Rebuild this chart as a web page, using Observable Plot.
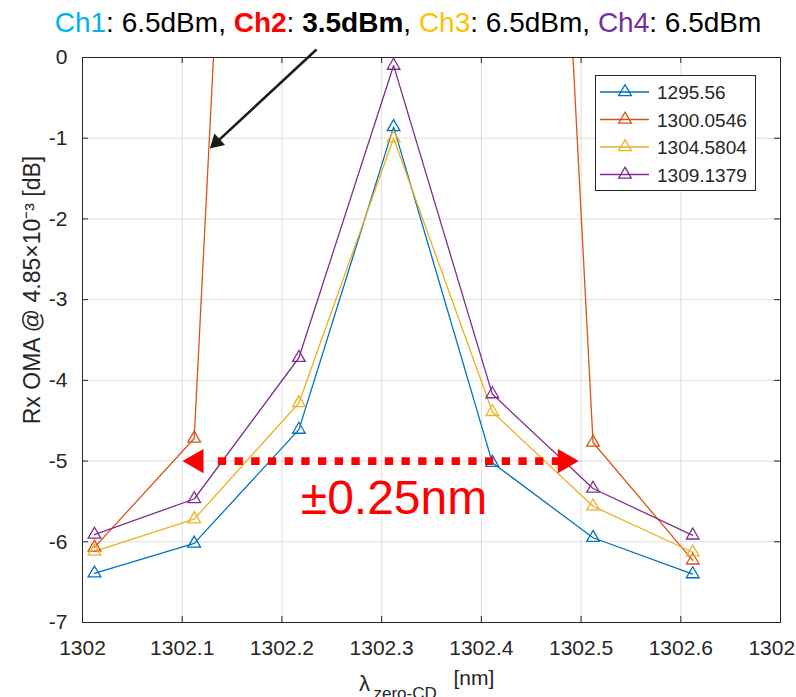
<!DOCTYPE html>
<html><head><meta charset="utf-8">
<script src="https://cdn.jsdelivr.net/npm/d3@7"></script>
<script src="https://cdn.jsdelivr.net/npm/@observablehq/plot@0.6"></script>
<style>
body{margin:0;background:#fff;font-family:"Liberation Sans",Arial,sans-serif;}
#wrap{position:relative;width:796px;height:697px;overflow:hidden;background:#fff;}
#title{position:absolute;left:0;top:9px;width:816px;text-align:center;font-size:28px;line-height:1;white-space:nowrap;color:#000;}
#chart{position:absolute;left:0;top:44px;}
#legend{position:absolute;left:595px;top:75px;}
</style></head><body>
<div id="wrap"><div id="title"></div><div id="chart"></div><div id="legend"></div></div>
<script>
// ---- data ----
const channelLabels = ["Ch1", "Ch2", "Ch3", "Ch4"];
const channelPowers = ["6.5dBm", "3.5dBm", "6.5dBm", "6.5dBm"];
const channelColors = ["#00B0F0", "#FF0000", "#FFC000", "#7030A0"];
const channelBold = [false, true, false, false];

const seriesNames = ["1295.56", "1300.0546", "1304.5804", "1309.1379"];
const seriesColors = ["#0072BD", "#D95319", "#EDB120", "#7E2F8E"];
const wavelengthsNm = [1302.012, 1302.112, 1302.217, 1302.312, 1302.411, 1302.512, 1302.612];
const oma1295 = [-6.39, -6.02, -4.61, -0.86, -5.02, -5.95, -6.40];
const oma1300 = [-6.07, -4.72, 20.9, 22.0, 19.2, -4.77, -6.23];
const oma1304 = [-6.12, -5.72, -4.28, -1.00, -4.39, -5.56, -6.13];
const oma1309 = [-5.91, -5.47, -3.72, -0.10, -4.17, -5.34, -5.92];
const seriesValues = [oma1295, oma1300, oma1304, oma1309];

const xTicks = [1302, 1302.1, 1302.2, 1302.3, 1302.4, 1302.5, 1302.6, 1302.7];
const yTicks = [-7, -6, -5, -4, -3, -2, -1, 0];
const xDomain = [1302, 1302.7];
const yDomain = [-7, 0];

const yLabel = "Rx OMA @ 4.85×10⁻³ [dB]";
const xLabelMain = "λ", xLabelSub = "zero-CD", xLabelUnit = "[nm]";
const spanLabel = "±0.25nm";
const spanCenter = {x: 1302.3124, y: -5.46};
const spanDash = {x1: 1302.1357, x2: 1302.4795, y: -5};
const spanHeads = [{x: 1302.1143, y: -5, rot: -90}, {x: 1302.4837, y: -5, rot: 90}];
const pointer = {x1: 1302.2347, y1: 0.099, x2: 1302.1343, y2: -1.052};

// ---- title ----
const title = d3.select("#title");
channelLabels.forEach((c, i) => {
  title.append("span").style("color", channelColors[i]).style("font-weight", channelBold[i] ? "bold" : "normal").text(c);
  title.append("span").text(": ");
  title.append("span").style("font-weight", channelBold[i] ? "bold" : "normal").text(channelPowers[i]);
  if (i < channelLabels.length - 1) title.append("span").text(", ");
});

// ---- chart ----
const W = 796, H = 653, mT = 13, mB = 75, mL = 82, mR = 16;
const innerW = W - mL - mR, innerH = H - mT - mB;
const rows = [];
seriesNames.forEach((name, i) => wavelengthsNm.forEach((x, j) => rows.push({series: name, x, y: seriesValues[i][j]})));

const kx = innerW / (xDomain[1] - xDomain[0]), ky = innerH / (yDomain[1] - yDomain[0]);
const pdx = (pointer.x2 - pointer.x1) * kx, pdy = -(pointer.y2 - pointer.y1) * ky;
const pointerRot = Math.atan2(pdx, -pdy) * 180 / Math.PI;
const axisColor = "#262626";

const chart = Plot.plot({
  width: W, height: H, marginTop: mT, marginBottom: mB, marginLeft: mL, marginRight: mR,
  style: {fontFamily: '"Liberation Sans", Arial, sans-serif', fontSize: "21px", color: axisColor, background: "white", overflow: "visible"},
  x: {domain: xDomain, label: null},
  y: {domain: yDomain, label: null},
  color: {domain: seriesNames, range: seriesColors},
  marks: [
    Plot.gridX(xTicks, {stroke: axisColor, strokeOpacity: 0.15}),
    Plot.gridY(yTicks, {stroke: axisColor, strokeOpacity: 0.15}),
    Plot.line(rows, {x: "x", y: "y", z: "series", stroke: "series", strokeWidth: 1.3, clip: true}),
    Plot.dot(rows, {x: "x", y: "y", stroke: "series", symbol: "triangle", r: 4.7, strokeWidth: 1.3, fill: "none", clip: true}),
    Plot.frame({stroke: axisColor}),
    Plot.tickX(xTicks, {x: d => d, insetTop: innerH - 6, stroke: axisColor}),
    Plot.tickX(xTicks, {x: d => d, insetBottom: innerH - 6, stroke: axisColor}),
    Plot.tickY(yTicks, {y: d => d, insetRight: innerW - 6, stroke: axisColor}),
    Plot.tickY(yTicks, {y: d => d, insetLeft: innerW - 6, stroke: axisColor}),
    Plot.axisX(xTicks, {tickSize: 0, tickPadding: 18, tickFormat: d => String(+d.toFixed(1)), label: null, fill: axisColor}),
    Plot.axisY(yTicks, {tickSize: 0, tickPadding: 15, tickFormat: d => String(d), label: null, fill: axisColor}),
    // annotations
    Plot.link([spanDash], {x1: "x1", x2: "x2", y1: "y", y2: "y", stroke: "#FF0000", strokeWidth: 7.7, strokeDasharray: "8.3,8.4"}),
    Plot.dot(spanHeads, {x: "x", y: "y", rotate: "rot", symbol: "triangle", r: 9, fill: "#FF0000"}),
    Plot.text([spanCenter], {x: "x", y: "y", text: () => spanLabel, fill: "#FF0000", fontSize: 48}),
    Plot.link([pointer], {x1: "x1", y1: "y1", x2: "x2", y2: "y2", stroke: "#1a1a1a", strokeWidth: 2.5}),
    Plot.dot([pointer], {x: "x2", y: "y2", rotate: pointerRot, symbol: "triangle", r: 5.8, fill: "#1a1a1a"}),
    // axis labels
    Plot.text([yLabel], {frameAnchor: "left", rotate: -90, dx: -50, dy: -50, textAnchor: "middle", lineAnchor: "middle", text: d => d, fontSize: 23, fill: axisColor}),
    Plot.text([xLabelMain], {frameAnchor: "bottom", dx: -72.6, dy: 68, textAnchor: "start", lineAnchor: "bottom", text: d => d, fontSize: 22, fill: axisColor}),
    Plot.text([xLabelSub], {frameAnchor: "bottom", dx: -58, dy: 76, textAnchor: "start", lineAnchor: "bottom", text: d => d, fontSize: 17, fill: axisColor}),
    Plot.text([xLabelUnit], {frameAnchor: "bottom", dx: 22, dy: 62, textAnchor: "start", lineAnchor: "bottom", text: d => d, fontSize: 21, fill: axisColor})
  ]
});
document.getElementById("chart").appendChild(chart);

// ---- legend ----
const lg = d3.select("#legend").append("svg").attr("width", 162).attr("height", 116)
  .style("font-family", '"Liberation Sans", Arial, sans-serif');
lg.append("rect").attr("x", 0.5).attr("y", 0.5).attr("width", 160).attr("height", 115)
  .attr("fill", "white").attr("stroke", axisColor);
const rowY = [17, 44.5, 72, 99.5];
seriesNames.forEach((name, i) => {
  const g = lg.append("g").attr("transform", `translate(0,${rowY[i]})`);
  g.append("line").attr("x1", 5).attr("x2", 54).attr("stroke", seriesColors[i]).attr("stroke-width", 1.3);
  g.append("path").attr("transform", "translate(30,0)")
    .attr("d", d3.symbol(d3.symbolTriangle, 4.7 * 4.7 * Math.PI)())
    .attr("fill", "none").attr("stroke", seriesColors[i]).attr("stroke-width", 1.3);
  g.append("text").attr("x", 62).attr("y", 7).attr("font-size", 19).attr("fill", axisColor).text(name);
});
</script>
</body></html>
